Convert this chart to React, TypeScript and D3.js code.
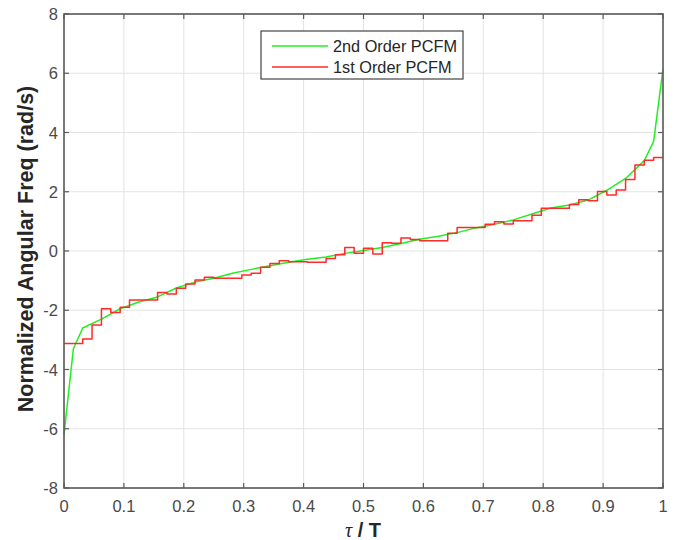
import React from "react";
import * as d3 from "d3";

// 1st order PCFM: 64 piecewise-constant chip frequencies
const redSteps: number[] = [
  -3.12, -3.12, -2.97, -2.5, -1.95, -2.08, -1.9, -1.65, -1.65, -1.65,
  -1.4, -1.45, -1.26, -1.11, -0.98, -0.89, -0.92, -0.92, -0.92, -0.81,
  -0.75, -0.55, -0.42, -0.33, -0.36, -0.36, -0.38, -0.38, -0.25, -0.13,
  0.12, -0.08, 0.09, -0.1, 0.28, 0.26, 0.44, 0.39, 0.35, 0.35,
  0.35, 0.6, 0.79, 0.79, 0.79, 0.9, 0.99, 0.91, 1.02, 1.02,
  1.21, 1.44, 1.44, 1.44, 1.57, 1.73, 1.7, 2.01, 1.89, 2.06,
  2.41, 2.9, 3.06, 3.16,
];

// 2nd order PCFM: knot positions (tau/T) and values
const greenX: number[] = [
  0, 1 / 64, 2 / 64, 4 / 64, 6 / 64, 8 / 64, 10 / 64, 12 / 64, 14 / 64, 16 / 64,
  18 / 64, 20 / 64, 22 / 64, 24 / 64, 26 / 64, 28 / 64, 30 / 64, 32 / 64, 34 / 64,
  36 / 64, 38 / 64, 40 / 64, 42 / 64, 44 / 64, 46 / 64, 48 / 64, 50 / 64, 52 / 64,
  54 / 64, 56 / 64, 58 / 64, 60 / 64, 62 / 64, 63 / 64, 1,
];
const greenY: number[] = [
  -6.2, -3.3, -2.6, -2.3, -1.95, -1.72, -1.55, -1.25, -1.05, -0.92,
  -0.75, -0.62, -0.5, -0.38, -0.28, -0.2, -0.08, 0.02, 0.12,
  0.25, 0.4, 0.5, 0.62, 0.78, 0.9, 1.05, 1.25, 1.45,
  1.55, 1.72, 2.05, 2.45, 3.05, 3.7, 6.15,
];

const xTicks: number[] = [0, 0.1, 0.2, 0.3, 0.4, 0.5, 0.6, 0.7, 0.8, 0.9, 1];
const xTickLabels: string[] = ["0", "0.1", "0.2", "0.3", "0.4", "0.5", "0.6", "0.7", "0.8", "0.9", "1"];
const yTicks: number[] = [-8, -6, -4, -2, 0, 2, 4, 6, 8];
const yTickLabels: string[] = ["-8", "-6", "-4", "-2", "0", "2", "4", "6", "8"];

const seriesNames: string[] = ["2nd Order PCFM", "1st Order PCFM"];
const seriesColors: string[] = ["#22ee22", "#ff2a2a"];

export default function App() {
  const W = 694, H = 540;
  const left = 64, right = 663, top = 14, bottom = 488;
  const x = d3.scaleLinear().domain([0, 1]).range([left, right]);
  const y = d3.scaleLinear().domain([-8, 8]).range([bottom, top]);

  const redPts: [number, number][] = redSteps.map((v, i) => [i / 64, v]);
  redPts.push([1, redSteps[redSteps.length - 1]]);
  const redLine = d3
    .line<[number, number]>()
    .x((d) => x(d[0]))
    .y((d) => y(d[1]))
    .curve(d3.curveStepAfter)(redPts) as string;

  const greenPts: [number, number][] = greenX.map((gx, i) => [gx, greenY[i]]);
  const greenLine = d3
    .line<[number, number]>()
    .x((d) => x(d[0]))
    .y((d) => y(d[1]))(greenPts) as string;

  const axisColor = "#5a5a5a";
  const tickText = "#4a4a4a";
  const font = "'Liberation Sans', Arial, sans-serif";
  const tl = 5;

  return (
    <svg
      width={W}
      height={H}
      style={{ position: "absolute", left: 0, top: 0, background: "#fff" }}
      fontFamily={font}
    >
      <rect x={0} y={0} width={W} height={H} fill="#fff" />
      {/* grid */}
      {xTicks.map((t, i) => (
        <line key={"gx" + i} x1={x(t)} x2={x(t)} y1={top} y2={bottom} stroke="#e3e3e3" strokeWidth={1} />
      ))}
      {yTicks.map((t, i) => (
        <line key={"gy" + i} x1={left} x2={right} y1={y(t)} y2={y(t)} stroke="#e3e3e3" strokeWidth={1} />
      ))}
      {/* series */}
      <path d={greenLine} fill="none" stroke={seriesColors[0]} strokeWidth={1.5} strokeLinejoin="round" />
      <path d={redLine} fill="none" stroke={seriesColors[1]} strokeWidth={1.5} strokeLinejoin="round" />
      {/* axes box */}
      <rect x={left} y={top} width={right - left} height={bottom - top} fill="none" stroke={axisColor} strokeWidth={1.6} />
      {xTicks.map((t, i) => (
        <g key={"xt" + i}>
          <line x1={x(t)} x2={x(t)} y1={bottom} y2={bottom - tl} stroke={axisColor} strokeWidth={1.2} />
          <line x1={x(t)} x2={x(t)} y1={top} y2={top + tl} stroke={axisColor} strokeWidth={1.2} />
          <text x={x(t)} y={512} textAnchor="middle" fontSize={16.5} fill={tickText}>
            {xTickLabels[i]}
          </text>
        </g>
      ))}
      {yTicks.map((t, i) => (
        <g key={"yt" + i}>
          <line x1={left} x2={left + tl} y1={y(t)} y2={y(t)} stroke={axisColor} strokeWidth={1.2} />
          <line x1={right} x2={right - tl} y1={y(t)} y2={y(t)} stroke={axisColor} strokeWidth={1.2} />
          <text x={58} y={y(t) + 6} textAnchor="end" fontSize={16.5} fill={tickText}>
            {yTickLabels[i]}
          </text>
        </g>
      ))}
      {/* axis labels */}
      <text
        transform={`translate(33, ${(top + bottom) / 2 - 2}) rotate(-90)`}
        textAnchor="middle"
        fontSize={21.5}
        fontWeight="bold"
        fill="#262626"
      >
        Normalized Angular Freq (rad/s)
      </text>
      <text x={363} y={537} textAnchor="middle" fontSize={20} fill="#262626">
        <tspan fontFamily="'Liberation Serif', 'Times New Roman', serif" fontStyle="italic">τ</tspan>
        <tspan fontWeight="bold"> / T</tspan>
      </text>
      {/* legend */}
      <rect x={261} y={31} width={202} height={48} fill="#fff" stroke="#444" strokeWidth={1.2} />
      {seriesNames.map((n, i) => (
        <g key={"lg" + i}>
          <line x1={272} x2={328} y1={46 + i * 21} y2={46 + i * 21} stroke={seriesColors[i]} strokeWidth={1.5} />
          <text x={333} y={46 + i * 21 + 6} fontSize={16.3} fill="#262626">
            {n}
          </text>
        </g>
      ))}
    </svg>
  );
}
